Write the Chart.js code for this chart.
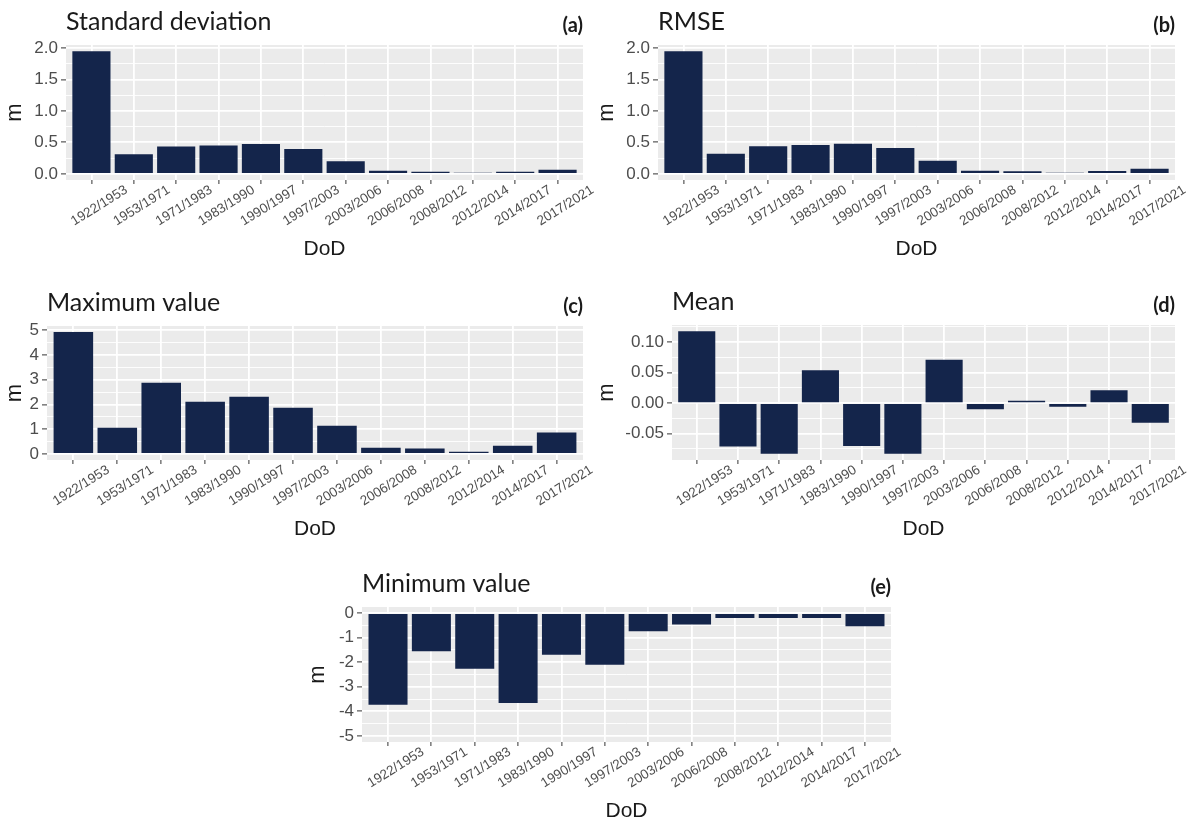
<!DOCTYPE html>
<html>
<head>
<meta charset="utf-8">
<script src="https://cdn.jsdelivr.net/npm/chart.js@4.4.0/dist/chart.umd.min.js"></script>
<style>
  html, body { margin: 0; padding: 0; background: #fff; }
  #page { position: relative; width: 1189px; height: 821px; overflow: hidden; }
  #page canvas { position: absolute; }
</style>
</head>
<body>
<div id="page"></div>
<script>
// DoD periods on the x axis
const periods = ['1922/1953', '1953/1971', '1971/1983', '1983/1990', '1990/1997', '1997/2003',
                 '2003/2006', '2006/2008', '2008/2012', '2012/2014', '2014/2017', '2017/2021'];

// values (m)
const sdValues   = [1.95, 0.31, 0.435, 0.45, 0.475, 0.395, 0.20, 0.05, 0.035, 0.012, 0.035, 0.065];
const rmseValues = [1.95, 0.32, 0.44, 0.46, 0.48, 0.41, 0.21, 0.05, 0.04, 0.015, 0.045, 0.08];
const maxValues  = [4.93, 1.06, 2.88, 2.11, 2.31, 1.87, 1.14, 0.25, 0.22, 0.09, 0.33, 0.87];
const meanValues = [0.118, -0.071, -0.083, 0.054, -0.070, -0.083, 0.071, -0.010, 0.004, -0.006, 0.021, -0.032];
const minValues  = [-3.73, -1.55, -2.27, -3.66, -1.70, -2.10, -0.74, -0.46, -0.20, -0.20, -0.20, -0.53];

// y tick labels (major breaks)
const sdTicks   = [0, 0.5, 1.0, 1.5, 2.0];
const maxTicks  = [0, 1, 2, 3, 4, 5];
const meanTicks = [-0.05, 0, 0.05, 0.10];
const minTicks  = [-5, -4, -3, -2, -1, 0];
const minLimits = [-5, 0];

const BAR = '#14254b';
const PANEL_BG = '#ebebeb';
const AXIS_TEXT = '#4d4d4d';
const TEXT = '#1a1a1a';
const SANS = '"Liberation Sans", Arial, sans-serif';

const TOP_PAD = 40, RIGHT_PAD = 14, X_AXIS_H = 84;

// ggplot style: 5% expansion of the continuous range
function expandRange(values, limits) {
  let lo = Math.min(0, ...values), hi = Math.max(0, ...values);
  if (limits) { lo = limits[0]; hi = limits[1]; }
  const pad = (hi - lo) * 0.05;
  return [lo - pad, hi + pad];
}

// major breaks plus minor ones half way between
function yTickList(majors, lo, hi) {
  const half = (majors[1] - majors[0]) / 2;
  const list = majors.map(v => ({ value: v, major: true }));
  for (let i = -1; i < majors.length; i++) {
    const m = i < 0 ? majors[0] - half : majors[i] + half;
    if (m > lo && m < hi) list.push({ value: m, major: false });
  }
  return list.sort((a, b) => a.value - b.value);
}

const panelBg = {
  id: 'panelBg',
  beforeDraw(chart) {
    const a = chart.chartArea, ctx = chart.ctx;
    ctx.save();
    ctx.fillStyle = PANEL_BG;
    ctx.fillRect(a.left, a.top, a.right - a.left, a.bottom - a.top);
    ctx.restore();
  }
};

const panelText = {
  id: 'panelText',
  afterDraw(chart, args, opts) {
    const a = chart.chartArea, ctx = chart.ctx;
    ctx.save();
    ctx.fillStyle = TEXT;
    ctx.textBaseline = 'alphabetic';
    ctx.font = '25px Lato, "Open Sans", sans-serif';
    ctx.textAlign = 'left';
    ctx.fillText(opts.title, a.left, a.top - 15);
    ctx.font = 'bold 20px Lato, "Open Sans", sans-serif';
    ctx.textAlign = 'right';
    ctx.fillText(opts.tag, a.right, a.top - 13);
    ctx.restore();
  }
};

function makePanel(spec) {
  const canvas = document.createElement('canvas');
  const w = spec.plotRight + RIGHT_PAD - spec.canvasLeft;
  const h = TOP_PAD + (spec.plotBottom - spec.plotTop) + X_AXIS_H;
  canvas.width = w; canvas.height = h;
  canvas.style.width = w + 'px'; canvas.style.height = h + 'px';
  canvas.style.left = spec.canvasLeft + 'px';
  canvas.style.top = (spec.plotTop - TOP_PAD) + 'px';
  document.getElementById('page').appendChild(canvas);

  const [lo, hi] = expandRange(spec.values, spec.limits);
  const isMajor = c => c.tick && c.tick.major;

  return new Chart(canvas, {
    type: 'bar',
    data: {
      datasets: [{
        data: spec.values.map((v, i) => ({ x: i + 1, y: v })),
        backgroundColor: BAR,
        borderWidth: 0,
        minBarLength: 1,
        categoryPercentage: 1,
        barPercentage: 0.9
      }]
    },
    options: {
      responsive: false,
      animation: false,
      devicePixelRatio: 1,
      layout: { padding: { top: TOP_PAD, right: RIGHT_PAD, left: 0, bottom: 0 } },
      plugins: {
        legend: { display: false },
        tooltip: { enabled: false },
        panelText: { title: spec.title, tag: spec.tag }
      },
      scales: {
        x: {
          type: 'linear',
          offset: false,
          min: 0.4,
          max: 12.6,
          afterBuildTicks: s => { s.ticks = periods.map((p, i) => ({ value: i + 1 })); },
          afterFit: s => { s.height = X_AXIS_H; },
          grid: { offset: false, color: '#ffffff', lineWidth: 1.8, tickColor: '#333333', tickWidth: 1, tickLength: 4 },
          border: { display: false },
          ticks: {
            autoSkip: false, minRotation: 32, maxRotation: 32,
            labelOffset: 35, padding: -2,
            color: AXIS_TEXT, font: { family: SANS, size: 13.5 },
            callback: v => periods[v - 1]
          },
          title: { display: true, text: 'DoD', color: TEXT, font: { family: SANS, size: 21 }, padding: { top: 0, bottom: 2 } }
        },
        y: {
          min: lo,
          max: hi,
          afterBuildTicks: s => { s.ticks = yTickList(spec.ticks, lo, hi); },
          afterFit: s => { s.width = spec.plotLeft - spec.canvasLeft; },
          grid: {
            color: '#ffffff',
            lineWidth: c => isMajor(c) ? 1.8 : 0.9,
            tickColor: c => isMajor(c) ? '#333333' : 'rgba(0,0,0,0)',
            tickWidth: 1,
            tickLength: 5
          },
          border: { display: false },
          ticks: {
            autoSkip: false, padding: 3,
            color: AXIS_TEXT, font: { family: SANS, size: 17 },
            callback: (v, i, t) => t[i].major ? (Math.round(v * 1000) / 1000).toFixed(spec.decimals) : ''
          },
          title: { display: true, text: 'm', color: TEXT, font: { family: SANS, size: 22 }, padding: { top: 2, bottom: 0 } }
        }
      }
    },
    plugins: [panelBg, panelText]
  });
}

makePanel({ title: 'Standard deviation', tag: '(a)', values: sdValues, ticks: sdTicks, decimals: 1,
            canvasLeft: 0, plotLeft: 66, plotRight: 583, plotTop: 45, plotBottom: 180 });
makePanel({ title: 'RMSE', tag: '(b)', values: rmseValues, ticks: sdTicks, decimals: 1,
            canvasLeft: 592, plotLeft: 658, plotRight: 1175, plotTop: 45, plotBottom: 180 });
makePanel({ title: 'Maximum value', tag: '(c)', values: maxValues, ticks: maxTicks, decimals: 0,
            canvasLeft: 0, plotLeft: 47, plotRight: 583, plotTop: 326, plotBottom: 460 });
makePanel({ title: 'Mean', tag: '(d)', values: meanValues, ticks: meanTicks, decimals: 2,
            canvasLeft: 592, plotLeft: 672, plotRight: 1175, plotTop: 325, plotBottom: 460 });
makePanel({ title: 'Minimum value', tag: '(e)', values: minValues, ticks: minTicks, decimals: 0, limits: minLimits,
            canvasLeft: 303, plotLeft: 362, plotRight: 891, plotTop: 607, plotBottom: 742 });
</script>
</body>
</html>
